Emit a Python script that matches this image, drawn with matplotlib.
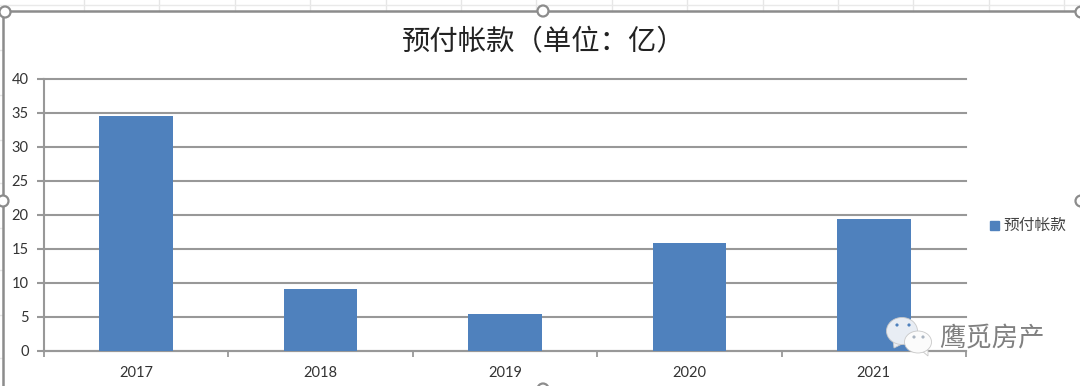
import matplotlib
matplotlib.use("Agg")
import matplotlib.pyplot as plt
from matplotlib.patches import Circle, Ellipse, Polygon, Rectangle
from matplotlib.lines import Line2D

plt.rcParams['font.family'] = ['Noto Sans CJK SC', 'DejaVu Sans']

years = ['2017', '2018', '2019', '2020', '2021']
values = [34.6, 9.1, 5.5, 15.9, 19.4]
title = '预付帐款（单位：亿）'
series_name = '预付帐款'
watermark = '鹰觅房产'
BLUE = '#4F81BD'
GRID = '#989898'
W, H = 1080, 386


def fx(x):
    return x / W


def fy(y):
    return 1 - y / H


fig = plt.figure(figsize=(10.8, 3.86), dpi=100, facecolor='white')

# Spreadsheet backdrop and selection frame
for i in range(14):
    x = 84 + 75.4 * i
    fig.add_artist(Line2D([fx(x), fx(x)], [fy(0), fy(11)], color='#E6E6E6', lw=1))
fig.add_artist(Line2D([0, 1], [fy(5), fy(5)], color='#E9E9E9', lw=1))
for y in (50, 95, 140, 183, 228, 270, 315, 358):
    fig.add_artist(Line2D([0, fx(2)], [fy(y), fy(y)], color='#E6E6E6', lw=1))
for (x0, y0), (x1, y1) in ([(3, 11), (1080, 11)], [(3, 11), (3, 386)]):
    fig.add_artist(Line2D([fx(x0), fx(x1)], [fy(y0), fy(y1)], color='#8C8C8C', lw=1.8))

ax = fig.add_axes([fx(44), fy(351), fx(966 - 44), (351 - 79) / H])
ax.bar(range(len(years)), values, width=0.4, color=BLUE, zorder=3)
ax.set_xlim(-0.5, 4.5)
ax.set_ylim(0, 40)
ax.set_yticks(range(0, 41, 5))
ax.grid(axis='y', color=GRID, lw=1.5, zorder=1, clip_on=False)
ax.set_axisbelow(True)
ax.set_xticks(range(len(years)))
ax.set_xticklabels(years)
ax.tick_params(axis='x', length=0, labelsize=10.5, colors='#333333', pad=11)
ax.tick_params(axis='y', length=5, width=1.5, color=GRID, labelsize=10.5, labelcolor='#333333', pad=6)
ax.set_xticks([i - 0.5 for i in range(len(years) + 1)], minor=True)
ax.tick_params(axis='x', which='minor', length=4, width=1.3, color=GRID, direction='out')
for lab in ax.get_xticklabels() + ax.get_yticklabels():
    lab.set_family('Lato')
for s in ('top', 'right'):
    ax.spines[s].set_visible(False)
for s in ('left', 'bottom'):
    ax.spines[s].set_color(GRID)
    ax.spines[s].set_linewidth(1.5)

fig.text(fx(544), fy(42), title, ha='center', va='center', fontsize=20.4, color='#222222')

# Legend
fig.add_artist(Rectangle((fx(990), fy(230)), 9 / W, 9 / H, color=BLUE, transform=fig.transFigure))
fig.text(fx(1003), fy(225), series_name, ha='left', va='center', fontsize=11.3, color='#444444')

# Selection handles
for x, y in [(5, 12), (543, 11), (1081, 12), (3, 201), (1081, 201), (543, 389)]:
    fig.add_artist(Circle((x, H - y), 5.5, transform=None, fc='white', ec='#8C8C8C', lw=1.6, zorder=10))

# Watermark
for x, y, w, h, fc, tail in [(902, 331, 31, 27, '#E8EDF4', [(893, 340), (894, 348), (904, 343)]),
                             (918, 342, 27, 22, '#FBFBFB', [(922, 351), (928, 356), (928, 350)])]:
    fig.add_artist(Polygon([(a, H - b) for a, b in tail], transform=None, fc=fc, ec='#C8C8C8', lw=0.6, zorder=8))
    fig.add_artist(Ellipse((x, H - y), w, h, transform=None, fc=fc, ec='#C8C8C8', lw=0.6, zorder=8))
for x, y, c in [(897, 325, '#4F81BD'), (909, 325, '#4F81BD'), (914, 337, '#AAB4C0'), (923, 337, '#AAB4C0')]:
    fig.add_artist(Circle((x, H - y), 1.6, transform=None, fc=c, ec='none', zorder=9))
fig.text(fx(939), fy(339), watermark, ha='left', va='center', fontsize=19,
         color='#808080', zorder=9)

fig.savefig('out.png', dpi=100)
